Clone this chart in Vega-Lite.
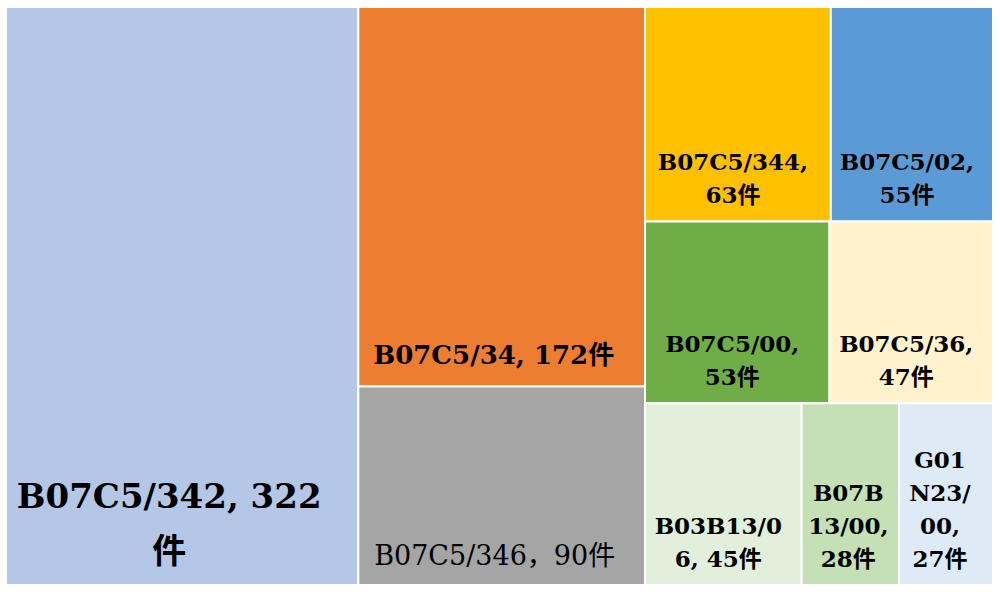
{
  "$schema": "https://vega.github.io/schema/vega-lite/v6.json",
  "width": 987,
  "height": 578,
  "autosize": {"type": "none"},
  "padding": {"left": 6, "top": 7, "right": 7, "bottom": 7},
  "background": "white",
  "config": {"view": {"stroke": null}},
  "data": {
    "values": [
      {"name": "B07C5/342", "value": 322, "col": 1, "row": 1, "label": "B07C5/342, 322\n件"},
      {"name": "B07C5/34", "value": 172, "col": 2, "row": 1, "label": "B07C5/34, 172件"},
      {"name": "B07C5/346", "value": 90, "col": 2, "row": 2, "label": "B07C5/346，90件"},
      {"name": "B07C5/344", "value": 63, "col": 3, "row": 1, "label": "B07C5/344,\n63件"},
      {"name": "B07C5/02", "value": 55, "col": 3, "row": 1, "label": "B07C5/02,\n55件"},
      {"name": "B07C5/00", "value": 53, "col": 3, "row": 2, "label": "B07C5/00,\n53件"},
      {"name": "B07C5/36", "value": 47, "col": 3, "row": 2, "label": "B07C5/36,\n47件"},
      {"name": "B03B13/06", "value": 45, "col": 3, "row": 3, "label": "B03B13/0\n6, 45件"},
      {"name": "B07B13/00", "value": 28, "col": 3, "row": 3, "label": "B07B\n13/00,\n28件"},
      {"name": "G01N23/00", "value": 27, "col": 3, "row": 3, "label": "G01\nN23/\n00,\n27件"}
    ]
  },
  "transform": [
    {"stack": "value", "groupby": [], "sort": [{"field": "col"}, {"field": "row"}, {"field": "value", "order": "descending"}], "as": ["cs0", "cs1"]},
    {"joinaggregate": [{"op": "min", "field": "cs0", "as": "x0c"}, {"op": "max", "field": "cs1", "as": "x1c"}], "groupby": ["col"]},
    {"stack": "value", "groupby": ["col"], "sort": [{"field": "row"}, {"field": "value", "order": "descending"}], "offset": "normalize", "as": ["rs0", "rs1"]},
    {"joinaggregate": [{"op": "min", "field": "rs0", "as": "y0"}, {"op": "max", "field": "rs1", "as": "y1"}], "groupby": ["col", "row"]},
    {"stack": "value", "groupby": ["col", "row"], "sort": [{"field": "value", "order": "descending"}], "offset": "normalize", "as": ["is0", "is1"]},
    {"calculate": "datum.x0c + datum.is0 * (datum.x1c - datum.x0c)", "as": "x0"},
    {"calculate": "datum.x0c + datum.is1 * (datum.x1c - datum.x0c)", "as": "x1"},
    {"calculate": "(datum.x0 + datum.x1) / 2", "as": "xm"},
    {"calculate": "length(split(datum.label, '\\n'))", "as": "nl"}
  ],
  "layer": [
    {
      "mark": {"type": "rect", "stroke": "white", "strokeWidth": 2},
      "encoding": {
        "x": {"field": "x0", "type": "quantitative", "axis": null, "scale": {"domain": [0, 902], "nice": false, "zero": false}},
        "x2": {"field": "x1"},
        "y": {"field": "y0", "type": "quantitative", "axis": null, "scale": {"domain": [0, 1], "reverse": true, "nice": false}},
        "y2": {"field": "y1"},
        "color": {
          "field": "name", "type": "nominal", "legend": null,
          "scale": {
            "domain": ["B07C5/342", "B07C5/34", "B07C5/346", "B07C5/344", "B07C5/02", "B07C5/00", "B07C5/36", "B03B13/06", "B07B13/00", "G01N23/00"],
            "range": ["#B4C7E7", "#ED7D31", "#A5A5A5", "#FFC000", "#5B9BD5", "#70AD47", "#FFF2CC", "#E2EFDA", "#C5E0B4", "#DEEBF7"]
          }
        }
      }
    },
    {
      "transform": [{"filter": "datum.col == 1"}],
      "mark": {"type": "text", "font": "DejaVu Serif, Noto Sans CJK SC", "fontWeight": "bold", "fontSize": 34, "lineHeight": 55, "lineBreak": "\n", "align": "center", "baseline": "alphabetic", "dx": -13, "dy": -77, "color": "black"},
      "encoding": {
        "x": {"field": "xm", "type": "quantitative"},
        "y": {"field": "y1", "type": "quantitative"},
        "text": {"field": "label", "type": "nominal"}
      }
    },
    {
      "transform": [{"filter": "datum.name == 'B07C5/34'"}],
      "mark": {"type": "text", "font": "DejaVu Serif, Noto Sans CJK SC", "fontWeight": "bold", "fontSize": 26, "lineBreak": "\n", "align": "center", "baseline": "alphabetic", "dx": -8, "dy": -22, "color": "black"},
      "encoding": {
        "x": {"field": "xm", "type": "quantitative"},
        "y": {"field": "y1", "type": "quantitative"},
        "text": {"field": "label", "type": "nominal"}
      }
    },
    {
      "transform": [{"filter": "datum.name == 'B07C5/346'"}],
      "mark": {"type": "text", "font": "DejaVu Serif, Noto Sans CJK SC", "fontWeight": "normal", "fontSize": 27, "lineBreak": "\n", "align": "center", "baseline": "alphabetic", "dx": -7, "dy": -20, "color": "black"},
      "encoding": {
        "x": {"field": "xm", "type": "quantitative"},
        "y": {"field": "y1", "type": "quantitative"},
        "text": {"field": "label", "type": "nominal"}
      }
    },
    {
      "transform": [{"filter": "datum.col == 3 && datum.nl == 2"}],
      "mark": {"type": "text", "font": "DejaVu Serif, Noto Sans CJK SC", "fontWeight": "bold", "fontSize": 23, "lineHeight": 33, "lineBreak": "\n", "align": "center", "baseline": "alphabetic", "dx": -5, "dy": -51, "color": "black"},
      "encoding": {
        "x": {"field": "xm", "type": "quantitative"},
        "y": {"field": "y1", "type": "quantitative"},
        "text": {"field": "label", "type": "nominal"}
      }
    },
    {
      "transform": [{"filter": "datum.col == 3 && datum.nl == 3"}],
      "mark": {"type": "text", "font": "DejaVu Serif, Noto Sans CJK SC", "fontWeight": "bold", "fontSize": 23, "lineHeight": 33, "lineBreak": "\n", "align": "center", "baseline": "alphabetic", "dx": -2, "dy": -84, "color": "black"},
      "encoding": {
        "x": {"field": "xm", "type": "quantitative"},
        "y": {"field": "y1", "type": "quantitative"},
        "text": {"field": "label", "type": "nominal"}
      }
    },
    {
      "transform": [{"filter": "datum.col == 3 && datum.nl == 4"}],
      "mark": {"type": "text", "font": "DejaVu Serif, Noto Sans CJK SC", "fontWeight": "bold", "fontSize": 23, "lineHeight": 33, "lineBreak": "\n", "align": "center", "baseline": "alphabetic", "dx": -6, "dy": -117, "color": "black"},
      "encoding": {
        "x": {"field": "xm", "type": "quantitative"},
        "y": {"field": "y1", "type": "quantitative"},
        "text": {"field": "label", "type": "nominal"}
      }
    }
  ]
}
